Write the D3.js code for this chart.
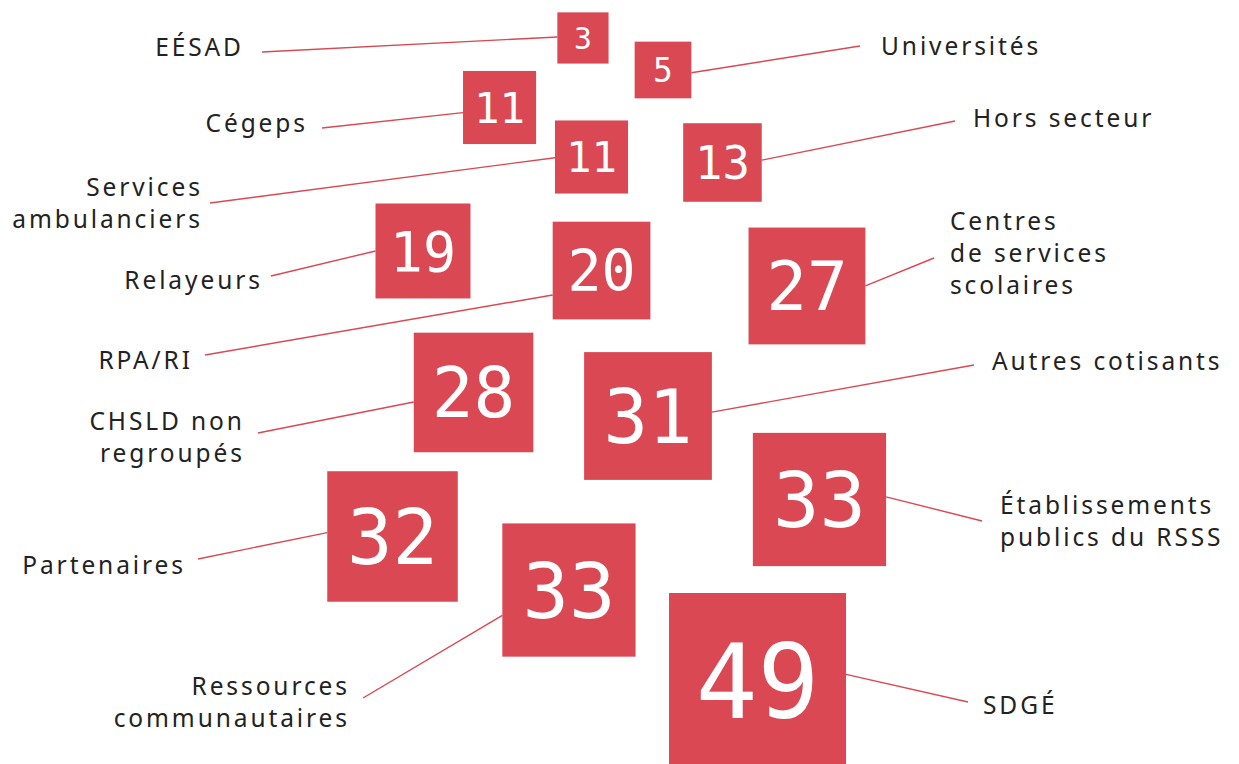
<!DOCTYPE html>
<html>
<head>
<meta charset="utf-8">
<script src="https://cdn.jsdelivr.net/npm/d3@7"></script>
<style>
  html, body { margin: 0; padding: 0; background: #fff; }
</style>
</head>
<body>
<script>
(function() {

  // categories and values
  let categories = ["EÉSAD", "Universités", "Cégeps", "Services ambulanciers", "Hors secteur",
    "Relayeurs", "RPA/RI", "Centres de services scolaires", "CHSLD non regroupés",
    "Autres cotisants", "Partenaires", "Établissements publics du RSSS",
    "Ressources communautaires", "SDGÉ"];
  let values = [3, 5, 11, 11, 13, 19, 20, 27, 28, 31, 32, 33, 33, 49];
  let labelLines = [["EÉSAD"], ["Universités"], ["Cégeps"], ["Services", "ambulanciers"],
    ["Hors secteur"], ["Relayeurs"], ["RPA/RI"], ["Centres", "de services", "scolaires"],
    ["CHSLD non", "regroupés"], ["Autres cotisants"], ["Partenaires"],
    ["Établissements", "publics du RSSS"], ["Ressources", "communautaires"], ["SDGÉ"]];

  // layout, in percent of the page (x, y)
  let squareCenters = [[47.05, 4.97], [53.51, 9.16], [40.32, 14.07], [47.74, 20.55], [58.31, 21.27],
    [34.14, 32.85], [48.55, 35.41], [65.13, 37.43], [38.22, 51.37], [52.30, 54.45],
    [31.68, 70.22], [66.14, 65.38], [45.92, 77.23], [61.14, 89.20]];
  let labelAnchors = [[19.45, 7.33], [71.11, 7.20], [24.62, 17.28], [16.14, 25.65], [78.53, 16.62],
    [20.98, 37.83], [15.34, 48.30], [76.67, 30.10], [19.53, 56.28], [80.06, 48.43],
    [14.77, 75.13], [80.71, 67.28], [28.01, 90.97], [79.34, 93.46]];
  let leaderEnds = [[21.15, 6.81], [69.41, 6.02], [25.99, 16.75], [16.95, 26.57], [77.08, 15.84],
    [21.87, 36.13], [16.55, 46.47], [75.38, 33.77], [20.82, 56.68], [78.61, 47.77],
    [15.98, 73.17], [79.26, 68.19], [29.30, 91.36], [78.13, 91.88]];
  // where the leader meets the square edge, as a fraction of the side from the centre
  let leaderOffsets = [-0.02, 0.05, 0.07, 0.01, -0.03, 0, 0.25, 0, 0.08, -0.03, -0.03, -0.02, 0.19, -0.04];

  let width = 1239;
  let height = 764;
  let red = "#d94853";
  let letterSpacing = 2.9;

  let svg = d3.select("body")
    .append("svg")
    .attr("width", width)
    .attr("height", height);

  let xScale = d3.scaleLinear().domain([0, 100]).range([0, width]);
  let yScale = d3.scaleLinear().domain([0, 100]).range([0, height]);
  let sizeScale = d3.scaleLinear().domain([0, 49]).range([43, 177]);

  let data = categories.map((c, i) => ({
    name: c,
    value: values[i],
    lines: labelLines[i],
    cx: xScale(squareCenters[i][0]),
    cy: yScale(squareCenters[i][1]),
    side: sizeScale(values[i]),
    lx: xScale(labelAnchors[i][0]),
    ly: yScale(labelAnchors[i][1]),
    ex: xScale(leaderEnds[i][0]),
    ey: yScale(leaderEnds[i][1]),
    off: leaderOffsets[i]
  }));
  data.forEach((d) => { d.left = d.lx < d.cx; });

  // leader lines
  svg.selectAll(".leader")
    .data(data)
    .enter()
    .append("line")
    .attr("class", "leader")
    .attr("x1", (d) => d.left ? d.cx - d.side / 2 : d.cx + d.side / 2)
    .attr("y1", (d) => d.cy + d.off * d.side)
    .attr("x2", (d) => d.ex)
    .attr("y2", (d) => d.ey)
    .attr("stroke", red)
    .attr("stroke-width", 1.4);

  // squares
  svg.selectAll(".sq")
    .data(data)
    .enter()
    .append("rect")
    .attr("class", "sq")
    .attr("x", (d) => d.cx - d.side / 2)
    .attr("y", (d) => d.cy - d.side / 2)
    .attr("width", (d) => d.side)
    .attr("height", (d) => d.side)
    .attr("fill", red);

  // numbers in squares
  svg.selectAll(".num")
    .data(data)
    .enter()
    .append("text")
    .attr("class", "num")
    .attr("x", (d) => d.cx)
    .attr("y", (d) => d.cy)
    .attr("dy", "0.36em")
    .attr("text-anchor", "middle")
    .attr("fill", "#fff")
    .style("font-family", "'DejaVu Sans Mono', monospace")
    .style("font-size", (d) => (d.side * 0.58) + "px")
    .text((d) => d.value);

  // category labels
  let labels = svg.selectAll(".label")
    .data(data)
    .enter()
    .append("text")
    .attr("class", "label")
    .attr("text-anchor", (d) => d.left ? "end" : "start")
    .attr("fill", "#222")
    .style("font-family", "'Noto Sans', sans-serif")
    .style("font-size", "24.5px")
    .style("letter-spacing", letterSpacing + "px");

  labels.selectAll("tspan")
    .data((d) => d.lines.map((t, j) => ({ t: t, j: j, p: d })))
    .enter()
    .append("tspan")
    .attr("x", (l) => l.p.left ? l.p.lx + letterSpacing : l.p.lx)
    .attr("y", (l) => l.p.ly + l.j * 32)
    .text((l) => l.t);

})();
</script>
</body>
</html>
